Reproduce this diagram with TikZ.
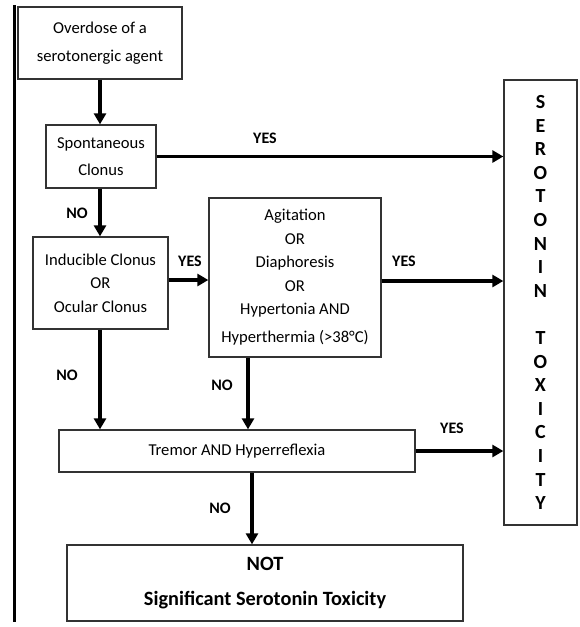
\documentclass[tikz,border=0pt]{standalone}
\usepackage{fontspec}
\setmainfont{Carlito}
\usetikzlibrary{arrows.meta}
\begin{document}
\begin{tikzpicture}[x=1pt,y=-1pt,
  box/.style={draw=black!80, line width=1.3pt, rectangle, inner sep=0pt, align=center},
  txt/.style={font=\fontsize{16.6}{23.5}\selectfont},
  arr/.style={line width=3.5pt, -{Triangle[length=11pt,width=12pt]}},
  lab/.style={font=\bfseries\fontsize{16}{18}\selectfont, inner sep=0pt}]
\useasboundingbox (0,0) rectangle (579,627);
\fill[white] (0,0) rectangle (579,627);
% left rule
\coordinate (lt) at (14,5);
\coordinate (lb) at (14,622);
\draw[line width=3pt] (lt) -- (lb);
% boxes
\node[box, minimum width=164pt, minimum height=72pt, font=\fontsize{16.6}{28}\selectfont] (ov) at (100,43) {Overdose of a\\serotonergic agent};
\node[box, minimum width=110pt, minimum height=63pt, font=\fontsize{16.6}{27}\selectfont] (sp) at (101,156.5) {Spontaneous\\Clonus};
\node[box, txt, minimum width=135pt, minimum height=92pt] (ind) at (100.5,283) {Inducible Clonus\\OR\\Ocular Clonus};
\node[box, txt, minimum width=172pt, minimum height=159pt] (agi) at (295,277.5) {Agitation\\OR\\Diaphoresis\\OR\\Hypertonia AND\\[4.5pt]Hyperthermia (>38°C)};
\node[box, txt, minimum width=356pt, minimum height=42pt] (tr) at (237,451) {Tremor AND Hyperreflexia};
\node[box, minimum width=396pt, minimum height=76pt, font=\bfseries\fontsize{20.3}{35}\selectfont] (no) at (265,583) {NOT\\Significant Serotonin Toxicity};
\node[box, minimum width=73pt, minimum height=445pt, font=\bfseries\fontsize{20}{23.6}\selectfont] (ser) at (540.5,302.5) {S\\E\\R\\O\\T\\O\\N\\I\\N\\[23.6pt]T\\O\\X\\I\\C\\I\\T\\Y};
% arrows
\draw[arr] (ov.south) -- (ov.south |- sp.north);
\draw[arr] (sp.south -| ov.south) -- (ind.north -| ov.south);
\draw[arr] (sp.east) -- (sp.east -| ser.west);
\draw[arr] ([yshift=3pt]ind.east) -- ([yshift=3pt]ind.east -| agi.west);
\draw[arr] ([yshift=-3.5pt]agi.east) -- ([yshift=-3.5pt]agi.east -| ser.west);
\draw[arr] (ind.south -| ov.south) -- (tr.north -| ov.south);
\draw[arr] ([xshift=-47pt]agi.south) -- ([xshift=-47pt]agi.south |- tr.north);
\draw[arr] (tr.east) -- (tr.east -| ser.west);
\draw[arr] ([xshift=15pt]tr.south) -- ([xshift=15pt]tr.south |- no.north);
% labels
\node[lab] (y1) at (265,138) {YES};
\node[lab] (y2) at (190,261) {YES};
\node[lab] (y3) at (404,261) {YES};
\node[lab] (y4) at (452,428) {YES};
\node[lab] (n1) at (77,213) {NO};
\node[lab] (n2) at (67,375) {NO};
\node[lab] (n3) at (222,385) {NO};
\node[lab] (n4) at (220,508) {NO};
\end{tikzpicture}
\end{document}
